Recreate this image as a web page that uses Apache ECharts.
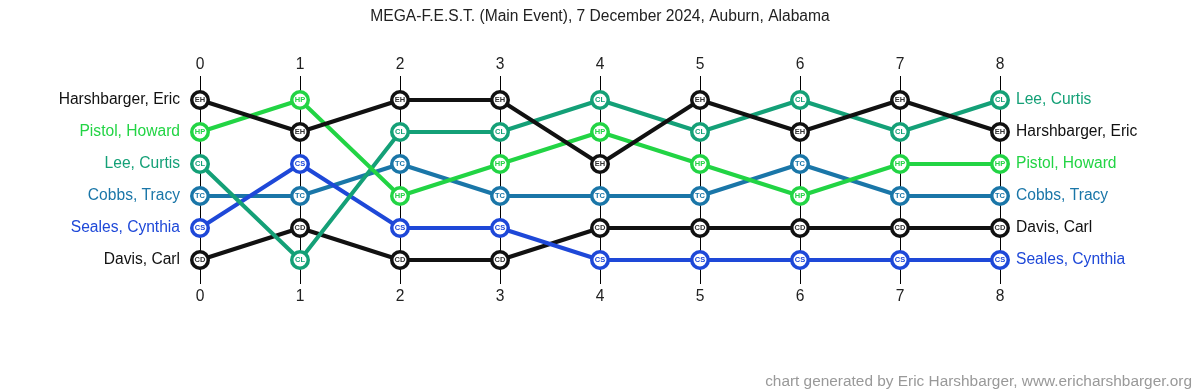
<!DOCTYPE html>
<html><head><meta charset="utf-8">
<script src="https://cdn.jsdelivr.net/npm/echarts@6/dist/echarts.min.js"></script>
<style>html,body{margin:0;padding:0;background:#fff}#c{width:1200px;height:392px}</style>
</head><body><div id="c"></div>
<script>
var rounds = [0,1,2,3,4,5,6,7,8];
var players = ["Harshbarger, Eric","Pistol, Howard","Lee, Curtis","Cobbs, Tracy","Seales, Cynthia","Davis, Carl"];
var initials = ["EH","HP","CL","TC","CS","CD"];
var colors = ["#111111","#22d444","#14a077","#1a76a8","#1e48d8","#111111"];
var rankEH = [1,2,1,1,3,1,2,1,2];
var rankHP = [2,1,4,3,2,3,4,3,3];
var rankCL = [3,6,2,2,1,2,1,2,1];
var rankTC = [4,4,3,4,4,4,3,4,4];
var rankCS = [5,3,5,5,6,6,6,6,6];
var rankCD = [6,5,6,6,5,5,5,5,5];
var ranks = [rankEH, rankHP, rankCL, rankTC, rankCS, rankCD];
var title = "MEGA-F.E.S.T. (Main Event), 7 December 2024, Auburn, Alabama";
var credit = "chart generated by Eric Harshbarger, www.ericharshbarger.org";

var FONT = "'Liberation Sans', Arial, sans-serif";
var FS = 15.6;
var series = [];
var drawOrder = [3,5,4,2,1,0];
drawOrder.forEach(function(p){
  var txtColor = (colors[p] === "#111111") ? "#333" : colors[p];
  series.push({
    type:'line', name: players[p], silent:true,
    data: rounds.map(function(r,i){ return [r, ranks[p][i]]; }),
    lineStyle:{color:colors[p], width:4},
    symbol:'circle', symbolSize:16.5, showSymbol:true,
    itemStyle:{color:'#fff', borderColor:colors[p], borderWidth:3.5},
    label:{show:true, position:'inside', formatter: initials[p], fontSize:7.5, fontWeight:'bold', color:txtColor, fontFamily:FONT},
    z: 2
  });
});
// name labels at first and last round
for (var p = 0; p < players.length; p++) {
  var last = rounds.length - 1;
  series.push({
    type:'scatter', silent:true, symbolSize:16, itemStyle:{color:'rgba(0,0,0,0)', opacity:1},
    data:[
      {value:[rounds[0], ranks[p][0]], label:{show:true, position:'left', distance:12, formatter: players[p], color: colors[p], fontSize:FS, fontFamily:FONT}},
      {value:[rounds[last], ranks[p][last]], label:{show:true, position:'right', distance:8, formatter: players[p], color: colors[p], fontSize:FS, fontFamily:FONT}}
    ],
    z: 3
  });
}

var chart = echarts.init(document.getElementById('c'), null, {renderer:'canvas'});
chart.setOption({
  animation:false,
  backgroundColor:'#fff',
  title:[
    {text:title, left:'center', top:4, textStyle:{fontSize:FS, fontWeight:'normal', color:'#222', fontFamily:FONT}},
    {text:credit, right:3, bottom:-2, textStyle:{fontSize:15.4, fontWeight:'normal', color:'#999', fontFamily:FONT}}
  ],
  grid:{left:200, right:200, top:76, height:208},
  xAxis:[
    {type:'value', min:0, max:8, interval:1, position:'top',
     axisLine:{show:false}, axisTick:{show:false},
     axisLabel:{show:true, margin:3, fontSize:FS, color:'#222', fontFamily:FONT},
     splitLine:{show:true, lineStyle:{color:'#000', width:1}}},
    {type:'value', min:0, max:8, interval:1, position:'bottom',
     axisLine:{show:false}, axisTick:{show:false},
     axisLabel:{show:true, margin:5, fontSize:FS, color:'#222', fontFamily:FONT},
     splitLine:{show:false}}
  ],
  yAxis:{type:'value', min:0.25, max:6.75, inverse:true, show:false, splitLine:{show:false}},
  series: series
});
</script></body></html>
